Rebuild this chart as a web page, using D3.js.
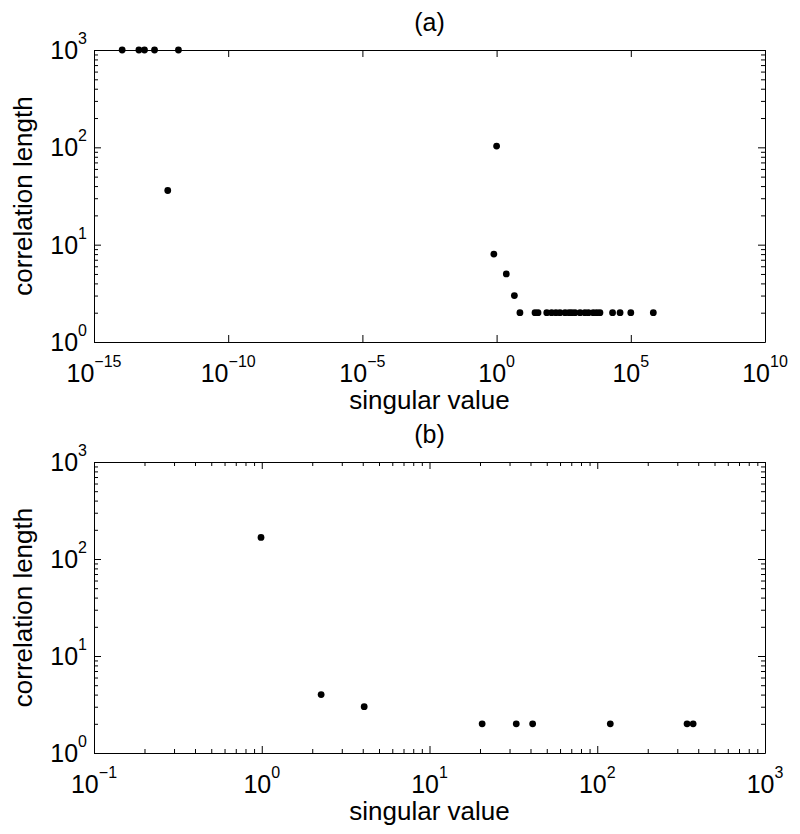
<!DOCTYPE html>
<head>
<meta charset="utf-8">
<script src="https://d3js.org/d3.v7.min.js"></script>
<style>
    body { margin: 0; background: #fff; }
    text { font-family: "Liberation Sans", Arial, sans-serif; fill: #000; }
    .axis path, .axis line { stroke: #000; stroke-width: 1px; fill: none; }
</style>
</head>
<body>
<svg></svg>
<script>
    var width = 800;
    var height = 834;

    // ---- panel (a) data ----
    var aSingular = [1.12e-14, 4.7e-14, 7.6e-14, 1.8e-13, 1.4e-12, 5.6e-13,
        1, 0.79, 2.3, 4.6,
        7.4, 27, 35, 74, 112, 162, 229, 355, 500, 630, 832, 1290, 1950, 2630, 4000, 5370, 7080,
        20900, 39800, 1e5, 6.9e5];
    var aCorrLength = [1000, 1000, 1000, 1000, 1000, 36,
        103, 8, 5, 3,
        2, 2, 2, 2, 2, 2, 2, 2, 2, 2, 2, 2, 2, 2, 2, 2, 2,
        2, 2, 2, 2];
    var aXExponents = [-15, -10, -5, 0, 5, 10];

    // ---- panel (b) data ----
    var bSingular = [0.99, 2.26, 4.08, 20.6, 32.9, 41.2, 119.6, 343, 373];
    var bCorrLength = [167, 4, 3, 2, 2, 2, 2, 2, 2];
    var bXExponents = [-1, 0, 1, 2, 3];

    var yExponents = [0, 1, 2, 3];

    var svg = d3.select("svg")
        .attr("width", width)
        .attr("height", height);

    var left = 94, right = 765;
    var fontSize = "25px";

    // minor ticks 2..9 in every decade between two exponents
    function minorTicks(lo, hi) {
        var out = [];
        for (var e = lo; e < hi; e++) {
            for (var m = 2; m <= 9; m++) out.push(m * Math.pow(10, e));
        }
        return out;
    }

    // "10" with a raised exponent
    function powerLabel(sel, e) {
        sel.append("tspan").text("10");
        sel.append("tspan")
            .attr("dy", -15)
            .style("font-size", "16px")
            .text(String(e).replace("-", "\u2212"));
    }

    function drawPanel(opt) {
        var g = svg.append("g");
        var top = opt.top, bottom = opt.bottom;

        var x = d3.scaleLog()
            .domain([Math.pow(10, opt.xExp[0]), Math.pow(10, opt.xExp[opt.xExp.length - 1])])
            .range([left, right]);
        var y = d3.scaleLog()
            .domain([1, 1000])
            .range([bottom, top]);

        var xMajor = opt.xExp.map(function(e) { return Math.pow(10, e); });
        var yMajor = yExponents.map(function(e) { return Math.pow(10, e); });
        var yMinor = minorTicks(0, 3);

        // inward ticks on all four sides (box on)
        g.append("g").attr("class", "axis").attr("transform", "translate(0," + bottom + ")")
            .call(d3.axisBottom(x).tickValues(xMajor).tickSizeInner(-7).tickSizeOuter(0).tickFormat(""));
        g.append("g").attr("class", "axis").attr("transform", "translate(0," + top + ")")
            .call(d3.axisTop(x).tickValues(xMajor).tickSizeInner(-7).tickSizeOuter(0).tickFormat(""));
        g.append("g").attr("class", "axis").attr("transform", "translate(" + left + ",0)")
            .call(d3.axisLeft(y).tickValues(yMajor).tickSizeInner(-7).tickSizeOuter(0).tickFormat(""));
        g.append("g").attr("class", "axis").attr("transform", "translate(" + right + ",0)")
            .call(d3.axisRight(y).tickValues(yMajor).tickSizeInner(-7).tickSizeOuter(0).tickFormat(""));

        // minor ticks
        g.append("g").attr("class", "axis").attr("transform", "translate(" + left + ",0)")
            .call(d3.axisLeft(y).tickValues(yMinor).tickSizeInner(-4).tickSizeOuter(0).tickFormat(""))
            .select(".domain").remove();
        g.append("g").attr("class", "axis").attr("transform", "translate(" + right + ",0)")
            .call(d3.axisRight(y).tickValues(yMinor).tickSizeInner(-4).tickSizeOuter(0).tickFormat(""))
            .select(".domain").remove();
        if (opt.xMinor) {
            var xMinor = minorTicks(opt.xExp[0], opt.xExp[opt.xExp.length - 1]);
            g.append("g").attr("class", "axis").attr("transform", "translate(0," + bottom + ")")
                .call(d3.axisBottom(x).tickValues(xMinor).tickSizeInner(-4).tickSizeOuter(0).tickFormat(""))
                .select(".domain").remove();
            g.append("g").attr("class", "axis").attr("transform", "translate(0," + top + ")")
                .call(d3.axisTop(x).tickValues(xMinor).tickSizeInner(-4).tickSizeOuter(0).tickFormat(""))
                .select(".domain").remove();
        }

        // tick labels
        opt.xExp.forEach(function(e) {
            var t = g.append("text")
                .attr("x", x(Math.pow(10, e)))
                .attr("y", bottom + 40)
                .attr("text-anchor", "middle")
                .style("font-size", fontSize);
            powerLabel(t, e);
        });
        yExponents.forEach(function(e) {
            var t = g.append("text")
                .attr("x", left - 7)
                .attr("y", y(Math.pow(10, e)) + 9)
                .attr("text-anchor", "end")
                .style("font-size", fontSize);
            powerLabel(t, e);
        });

        // axis labels and title
        g.append("text")
            .attr("x", (left + right) / 2)
            .attr("y", bottom + 67)
            .attr("text-anchor", "middle")
            .style("font-size", "26px")
            .text("singular value");
        g.append("text")
            .attr("transform", "translate(32," + ((top + bottom) / 2) + ") rotate(-90)")
            .attr("text-anchor", "middle")
            .style("font-size", "26px")
            .text("correlation length");
        g.append("text")
            .attr("x", (left + right) / 2)
            .attr("y", top - 19)
            .attr("text-anchor", "middle")
            .style("font-size", fontSize)
            .text(opt.title);

        // points
        g.selectAll("circle")
            .data(opt.xs)
            .enter().append("circle")
            .attr("cx", function(d) { return x(d); })
            .attr("cy", function(d, i) { return y(opt.ys[i]); })
            .attr("r", 3.4)
            .style("fill", "#000");
    }

    drawPanel({ title: "(a)", top: 50, bottom: 342, xExp: aXExponents, xMinor: false,
        xs: aSingular, ys: aCorrLength });
    drawPanel({ title: "(b)", top: 462, bottom: 753, xExp: bXExponents, xMinor: true,
        xs: bSingular, ys: bCorrLength });
</script>
</body>
